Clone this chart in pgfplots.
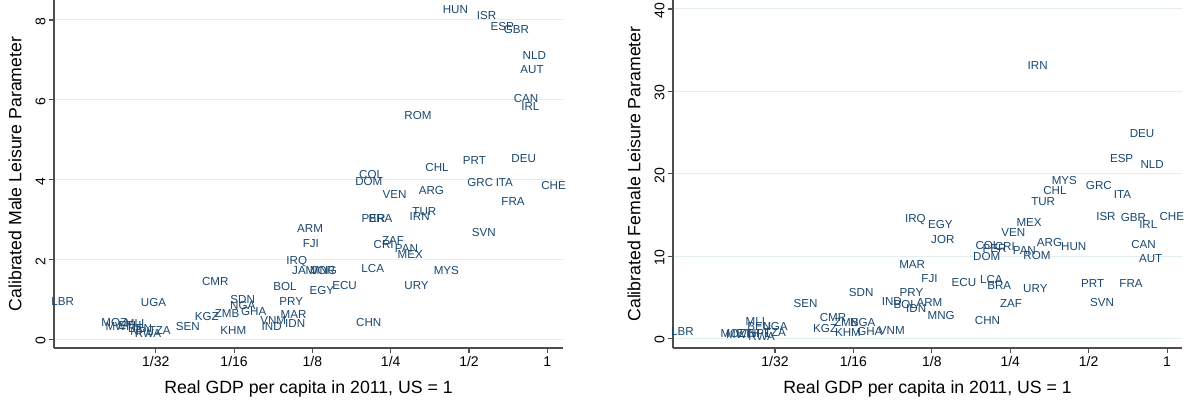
\documentclass[border=0pt]{standalone}
\usepackage{fontspec}
\setmainfont{Liberation Sans}
\usepackage{pgfplots}
\usepackage{pgfplotstable}
\pgfplotsset{compat=1.18}
\definecolor{navy}{HTML}{1A476F}
\definecolor{gridc}{HTML}{E3EEF1}
\definecolor{axc}{HTML}{4D4D4D}

\pgfplotstableread{
x y lab
-1.175 8.25 HUN
-0.776 8.12 ISR
-0.575 7.83 ESP
-0.396 7.77 GBR
-0.166 7.10 NLD
-0.195 6.75 AUT
-0.272 6.04 CAN
-0.217 5.83 IRL
-1.652 5.61 ROM
-1.409 4.31 CHL
-0.932 4.49 PRT
-0.302 4.53 DEU
-2.25 4.14 COL
-2.28 3.96 DOM
-0.856 3.93 GRC
-0.549 3.93 ITA
0.08 3.86 CHE
-1.95 3.64 VEN
-1.48 3.74 ARG
-0.438 3.46 FRA
-0.81 2.68 SVN
-2.13 3.04 BRA
-2.22 3.02 PER
-1.57 3.21 TUR
-1.63 3.08 IRN
-3.03 2.77 ARM
-3.02 2.40 FJI
-1.97 2.48 ZAF
-2.09 2.375 CRI
-1.80 2.28 PAN
-1.75 2.125 MEX
-3.20 1.95 IRQ
-3.11 1.73 JAM
-2.86 1.73 JOR
-2.86 1.73 MNG
-6.19 0.94 LBR
-5.03 0.93 UGA
-4.24 1.44 CMR
-3.89 1.00 SDN
-3.89 0.85 NGA
-3.75 0.71 GHA
-4.09 0.64 ZMB
-4.35 0.58 KGZ
-4.59 0.33 SEN
-4.01 0.225 KHM
-3.35 1.33 BOL
-3.27 0.96 PRY
-3.24 0.625 MAR
-3.22 0.40 IDN
-3.50 0.475 VNM
-3.52 0.33 IND
-2.88 1.225 EGY
-2.59 1.35 ECU
-2.23 1.775 LCA
-1.67 1.35 URY
-1.29 1.725 MYS
-2.28 0.42 CHN
-5.53 0.43 MOZ
-5.49 0.33 MWI
-5.27 0.40 MLI
-5.33 0.35 ETH
-5.20 0.28 BEN
-5.18 0.20 NPL
-5.10 0.14 RWA
-4.95 0.23 TZA
}\male

\pgfplotstableread{
x y lab
-0.32 24.93 DEU
-0.58 21.8 ESP
-0.19 21.1 NLD
-1.65 33.1 IRN
-1.31 19.15 MYS
-0.87 18.55 GRC
-1.43 17.94 CHL
-0.57 17.54 ITA
-1.58 16.64 TUR
-0.78 14.83 ISR
-0.43 14.63 GBR
-0.24 13.82 IRL
0.06 14.79 CHE
-3.21 14.5 IRQ
-2.89 13.9 EGY
-1.76 14.1 MEX
-1.96 12.89 VEN
-2.86 12.0 JOR
-1.50 11.67 ARG
-1.19 11.15 HUN
-0.30 11.36 CAN
-0.21 9.73 AUT
-2.29 11.27 COL
-2.20 10.87 PER
-2.07 11.15 CRI
-1.82 10.70 PAN
-1.66 10.10 ROM
-2.30 9.98 DOM
-3.25 8.97 MAR
-3.03 7.24 FJI
-2.59 6.75 ECU
-2.24 7.15 LCA
-2.14 6.46 BRA
-1.68 6.06 URY
-0.95 6.63 PRT
-0.46 6.63 FRA
-0.83 4.40 SVN
-1.99 4.20 ZAF
-2.29 2.18 CHN
-2.88 2.83 MNG
-3.26 5.54 PRY
-3.03 4.40 ARM
-3.51 4.52 IND
-3.34 4.08 BOL
-3.20 3.60 IDN
-3.90 5.54 SDN
-4.61 4.24 SEN
-6.18 0.89 LBR
-4.26 2.50 CMR
-4.36 1.17 KGZ
-4.09 1.90 ZMB
-3.88 1.90 NGA
-4.07 0.69 KHM
-3.79 0.89 GHA
-3.51 1.00 VNM
-5.25 2.10 MLI
-5.20 1.49 BEN
-5.00 1.49 UGA
-5.53 0.57 MOZ
-5.47 0.48 MWI
-5.34 0.57 ETH
-5.20 0.60 NPL
-5.17 0.20 RWA
-5.00 0.69 TZA
}\female

\pgfplotsset{stata/.style={
  scale only axis, width=509pt, height=348pt,
  xmin=-6.30, xmax=0.2,
  axis x line*=bottom, axis y line*=left,
  axis line style={-, axc, line width=1.2pt},
  xtick={-5,-4,-3,-2,-1,0}, xticklabels={1/32,1/16,1/8,1/4,1/2,1},
  tick style={axc, line width=1.2pt}, major tick length=5pt, tick align=outside,
  ymajorgrids, grid style={gridc, line width=1pt},
  ticklabel style={font=\fontsize{14}{14}\selectfont},
  yticklabel style={rotate=90, anchor=south, xshift=-1.5pt},
  /pgf/number format/assume math mode=true,
  xlabel={Real GDP per capita in 2011, US = 1},
  label style={font=\fontsize{17.7}{18}\selectfont},
  xlabel style={at={(axis description cs:0.5,-0.118)}, anchor=center},
  ylabel style={at={(axis description cs:-0.0766,0.5)}, anchor=center},
  clip=false,
}}

\begin{document}
\begin{tikzpicture}
\path[use as bounding box] (0,0) rectangle (1190pt,400pt);
\begin{axis}[stata, at={(54pt,52pt)}, anchor=south west,
  ymin=-0.213, ymax=8.5, ytick={0,2,4,6,8},
  ylabel={Calibrated Male Leisure Parameter}]
\addplot[only marks, mark=*, mark size=0pt, mark options={draw=none,fill=none},
  nodes near coords, point meta=explicit symbolic,
  every node near coord/.append style={anchor=center, inner sep=0pt, text=navy, font=\fontsize{11.6}{12}\selectfont}]
  table[x=x, y=y, meta=lab] {\male};
\end{axis}
\begin{axis}[stata, at={(673pt,52pt)}, anchor=south west,
  xmax=0.19,
  ymin=-1.15, ymax=41.09, ytick={0,10,20,30,40},
  ylabel={Calibrated Female Leisure Parameter}]
\addplot[only marks, mark=*, mark size=0pt, mark options={draw=none,fill=none},
  nodes near coords, point meta=explicit symbolic,
  every node near coord/.append style={anchor=center, inner sep=0pt, text=navy, font=\fontsize{11.6}{12}\selectfont}]
  table[x=x, y=y, meta=lab] {\female};
\end{axis}
\end{tikzpicture}
\end{document}
